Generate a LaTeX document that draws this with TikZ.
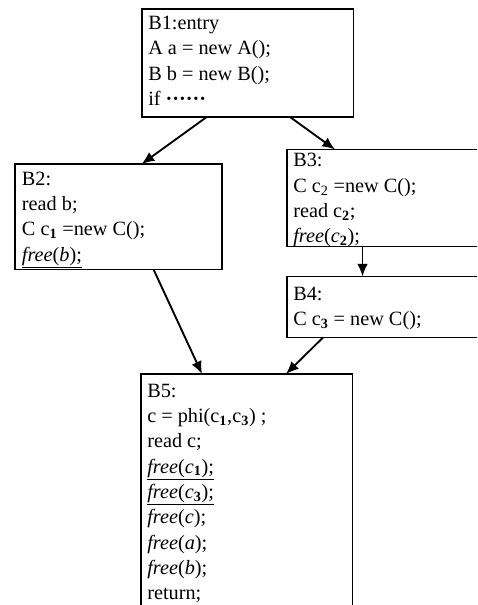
\documentclass[tikz,border=0pt]{standalone}
\usepackage{fontspec}
\setmainfont{Liberation Serif}
\usetikzlibrary{arrows.meta,calc}
\newcommand{\sbf}[1]{\textsubscript{\textbf{#1}}}
\begin{document}
\begin{tikzpicture}[x=0.75pt,y=-0.75pt,
  blk/.style={draw=black,line width=0.8pt,anchor=north west,inner sep=0pt,outer sep=0pt},
  txt/.style={anchor=north west,inner sep=0pt,align=left,font=\fontsize{15.2}{19}\selectfont},
  arr/.style={-{Latex[length=9.5pt,width=8pt]},line width=1.4pt}]
\useasboundingbox (0,0) rectangle (477,605);
\clip (0,0) rectangle (477,605);
\node[blk,minimum width=158.6pt,minimum height=81pt] (b1) at (142,9) {};
\node[blk,minimum width=155.25pt,minimum height=79pt] (b2) at (15,164) {};
\node[blk,minimum width=170pt,minimum height=72.75pt] (b3) at (287,149.5) {};
\node[blk,minimum width=170pt,minimum height=45.75pt] (b4) at (287,276.5) {};
\node[blk,minimum width=158.6pt,minimum height=200pt] (b5) at (141,374) {};
\node[txt] (t1) at (148,15.8) {B1:entry\\A a = new A();\\B b = new B();\\if \textbf{······}};
\node[txt] (t2) at (21.7,171.5) {B2:\\read b;\\C c\sbf{1} =new C();\\\underline{\textit{free}(\textit{b});}};
\node[txt] (t3) at (293,153.2) {B3:\\C c\textsubscript{2} =new C();\\read c\sbf{2};\\\textit{free}(\textit{c}\sbf{2});};
\node[txt] (t4) at (293,286.5) {B4:\\C c\sbf{3} = new C();};
\node[txt] (t5) at (147,383.5) {B5:\\c = phi(c\sbf{1},c\sbf{3}) ;\\read c;\\\underline{\textit{free}(\textit{c}\sbf{1});}\\\underline{\textit{free}(\textit{c}\sbf{3});}\\\textit{free}(\textit{c});\\\textit{free}(\textit{a});\\\textit{free}(\textit{b});\\return;};
\draw[arr] ($(b1.south west)+(64.7,0)$) -- ($(b2.north west)+(126.7,0)$);
\draw[arr] ($(b1.south west)+(148,0)$) -- ($(b3.north west)+(48,0)$);
\draw[arr] ($(b3.south west)+(75.5,0)$) -- ($(b4.north west)+(75.5,0)$);
\draw[arr] ($(b2.south west)+(138.5,0)$) -- ($(b5.north west)+(61,0)$);
\draw[arr] ($(b4.south west)+(36,0)$) -- ($(b5.north west)+(145,0)$);
\end{tikzpicture}
\end{document}
